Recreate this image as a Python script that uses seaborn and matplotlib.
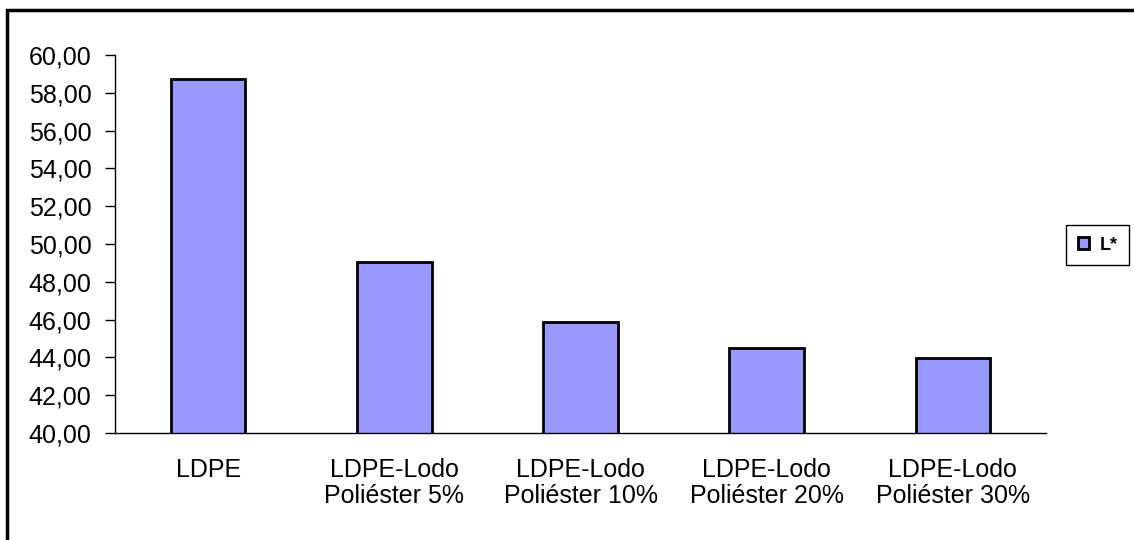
import matplotlib
matplotlib.use("Agg")
import matplotlib.pyplot as plt
from matplotlib.patches import Rectangle, Patch
from matplotlib.ticker import FixedLocator
import seaborn as sns
import pandas as pd

categories = [
    "LDPE",
    "LDPE-Lodo\nPoliéster 5%",
    "LDPE-Lodo\nPoliéster 10%",
    "LDPE-Lodo\nPoliéster 20%",
    "LDPE-Lodo\nPoliéster 30%",
]
l_star = [58.75, 49.05, 45.87, 44.48, 43.97]
series_name = "L*"
y_ticks = [40, 42, 44, 46, 48, 50, 52, 54, 56, 58, 60]

sns.set_theme(style="white")
plt.rcParams["font.family"] = ["Liberation Sans", "DejaVu Sans"]
plt.rcParams["text.color"] = "black"
plt.rcParams["xtick.color"] = "black"
plt.rcParams["ytick.color"] = "black"

W, H = 1134, 540
fig = plt.figure(figsize=(W / 100, H / 100), dpi=100)
ax = fig.add_axes([115 / W, 1 - 433 / H, (1046 - 115) / W, (433 - 55) / H])

df = pd.DataFrame({"cat": categories, "val": l_star})
sns.barplot(data=df, x="cat", y="val", ax=ax, color="#9999FF", saturation=1,
            width=0.4, edgecolor="black", linewidth=2.0)

ax.set_ylim(40, 60)
ax.set_xlim(-0.5, len(categories) - 0.5)
ax.set_yticks(y_ticks)
ax.set_yticklabels([f"{v:.2f}".replace(".", ",") for v in y_ticks], fontsize=18)
ax.set_xlabel("")
ax.set_ylabel("")

# category labels without tick marks; separators as minor ticks
ax.tick_params(axis="x", which="major", length=0, labelsize=18, pad=18,
               labelcolor="black")
ax.xaxis.set_minor_locator(FixedLocator([i - 0.5 for i in range(len(categories) + 1)]))
ax.tick_params(axis="x", which="minor", length=7, width=1, color="black", direction="out")
ax.tick_params(axis="y", which="major", length=7, width=1, color="black",
               direction="out", left=True, pad=10, labelcolor="black")
for lbl in ax.get_xticklabels():
    lbl.set_linespacing(1.1)

for side in ["top", "right"]:
    ax.spines[side].set_visible(False)
for side in ["left", "bottom"]:
    ax.spines[side].set_color("black")
    ax.spines[side].set_linewidth(1.0)

# legend on the right
handle = Patch(facecolor="#9999FF", edgecolor="black", linewidth=2.0)
leg = fig.legend(handles=[handle], labels=[series_name], loc="center left",
                 bbox_to_anchor=(1066 / W, 1 - 245 / H), bbox_transform=fig.transFigure,
                 borderaxespad=0, frameon=True, fancybox=False, edgecolor="black",
                 framealpha=1, handlelength=0.65, handleheight=0.65, handletextpad=0.55,
                 borderpad=0.65, prop={"size": 13, "weight": "bold"})
leg.get_frame().set_linewidth(1.0)

# outer chart-area frame
fig.patches.append(Rectangle((7 / W, -0.2), 1.5, 1.2 - 10 / H,
                             transform=fig.transFigure, fill=False,
                             edgecolor="black", linewidth=2.5, clip_on=False))

fig.savefig("out.png", dpi=100, facecolor="white")
